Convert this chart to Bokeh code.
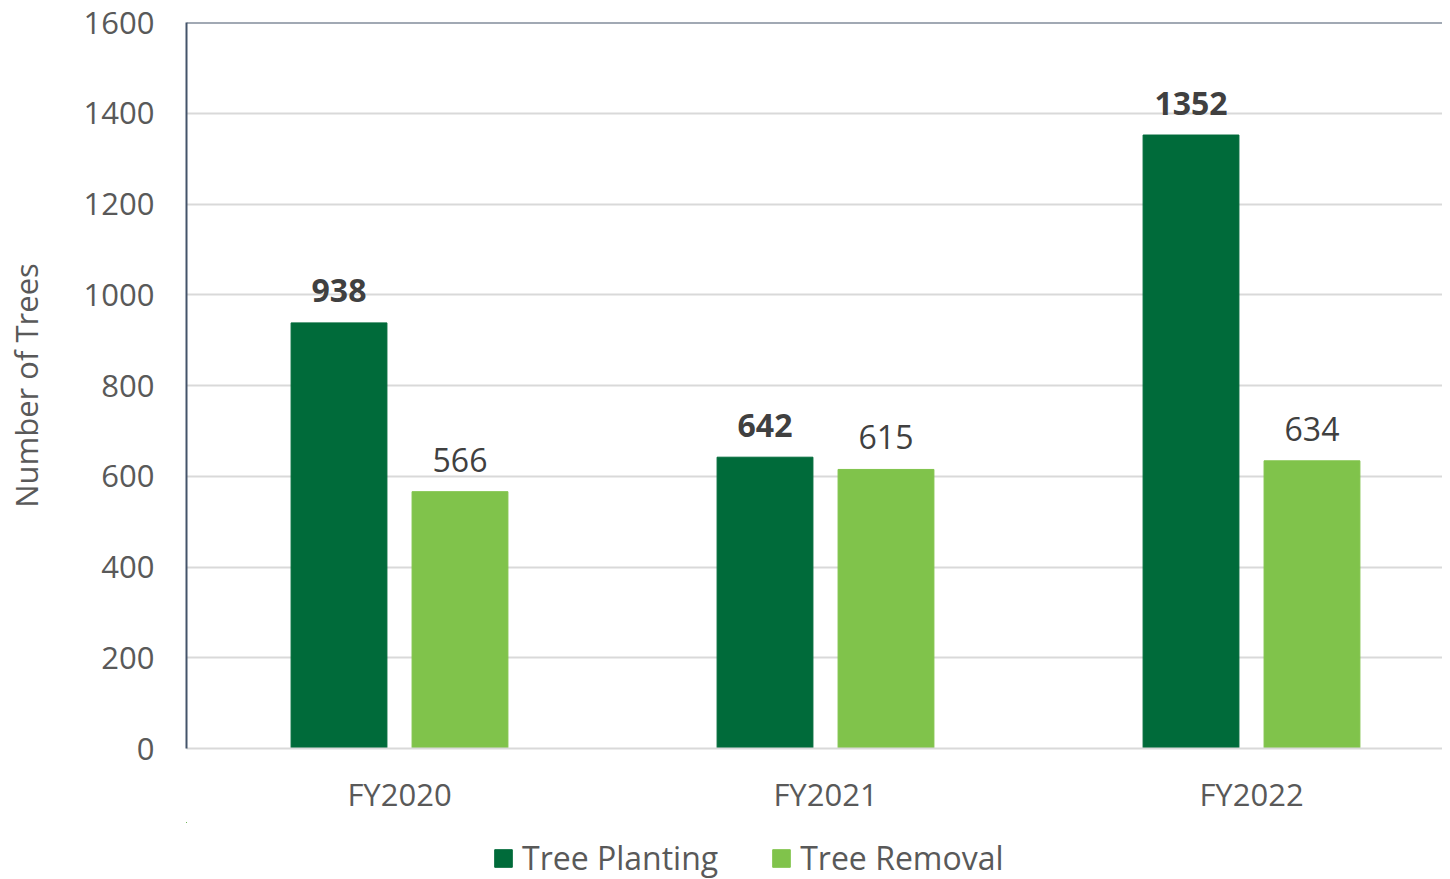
from bokeh.plotting import figure
from bokeh.layouts import column
from bokeh.models import Range1d, Span, Legend, LegendItem, ColumnDataSource, FixedTicker
from bokeh.core.properties import value
from bokeh.embed import file_html
from bokeh.resources import INLINE

categories = ["FY2020", "FY2021", "FY2022"]
planting = [938, 642, 1352]
removal = [566, 615, 634]
y_ticks = [0, 200, 400, 600, 800, 1000, 1200, 1400, 1600]
series_names = ["Tree Planting", "Tree Removal"]

DARK = "#006B3A"
LIGHT = "#80C34B"
FONT = "Open Sans"
W = 1442
LEFT = 186

centers = [i + 0.5 for i in range(len(categories))]
off = 0.142
bw = 0.225

src_p = ColumnDataSource(dict(x=[c - off for c in centers], top=planting,
                              lab=[str(v) for v in planting]))
src_r = ColumnDataSource(dict(x=[c + off for c in centers], top=removal,
                              lab=[str(v) for v in removal]))

p = figure(width=W, height=822, output_backend="svg", toolbar_location=None,
           x_range=Range1d(0, (W - LEFT) / 426), y_range=Range1d(0, 1600),
           min_border_left=LEFT, min_border_top=22, min_border_bottom=74,
           min_border_right=0)
p.outline_line_color = None
p.background_fill_color = "white"
p.border_fill_color = "white"

r1 = p.vbar(x="x", top="top", width=bw, source=src_p, color=DARK)
r2 = p.vbar(x="x", top="top", width=bw, source=src_r, color=LIGHT)

p.text(x="x", y="top", text="lab", source=src_p, text_font=value(FONT),
       text_font_size="32px", text_font_style="bold", text_color="#404040",
       text_align="center", text_baseline="middle", y_offset=-32)
p.text(x="x", y="top", text="lab", source=src_r, text_font=value(FONT),
       text_font_size="32px", text_color="#404040",
       text_align="center", text_baseline="middle", y_offset=-32)

# axes
p.xaxis.ticker = FixedTicker(ticks=centers)
p.xaxis.major_label_overrides = {c: n for c, n in zip(centers, categories)}
p.xaxis.axis_line_color = "#D9D9D9"
p.xaxis.axis_line_width = 2
p.xaxis.major_tick_line_color = None
p.xaxis.minor_tick_line_color = None
p.xaxis.major_label_text_font = FONT
p.xaxis.major_label_text_font_size = "31px"
p.xaxis.major_label_text_color = "#595959"
p.xaxis.major_label_standoff = 18

p.yaxis.ticker = FixedTicker(ticks=y_ticks)
p.yaxis.axis_line_color = "#44546A"
p.yaxis.axis_line_width = 2
p.yaxis.major_tick_line_color = None
p.yaxis.minor_tick_line_color = None
p.yaxis.major_label_text_font = FONT
p.yaxis.major_label_text_font_size = "31px"
p.yaxis.major_label_text_color = "#595959"
p.yaxis.major_label_standoff = 26
p.yaxis.axis_label = "Number of Trees"
p.yaxis.axis_label_text_font = FONT
p.yaxis.axis_label_text_font_size = "31px"
p.yaxis.axis_label_text_font_style = "normal"
p.yaxis.axis_label_text_color = "#595959"
p.yaxis.axis_label_standoff = 34

p.xgrid.grid_line_color = None
p.ygrid.grid_line_color = "#D9D9D9"
p.ygrid.grid_line_width = 2

p.add_layout(Span(location=1600, dimension="width", line_color="#44546A", line_width=2))

# legend strip (its renderers reuse the data but sit outside its visible range)
lg = figure(width=W, height=57, output_backend="svg", toolbar_location=None,
            x_range=Range1d(100, 101), y_range=Range1d(-2, -1),
            x_axis_location=None, y_axis_location=None,
            min_border_left=LEFT, min_border_right=0, min_border_top=0, min_border_bottom=0)
lg.grid.visible = False
lg.outline_line_color = None
lg.background_fill_color = "white"
lg.border_fill_color = "white"
lr1 = lg.vbar(x="x", top="top", width=bw, source=src_p, color=DARK)
lr2 = lg.vbar(x="x", top="top", width=bw, source=src_r, color=LIGHT)
legend = Legend(items=[LegendItem(label=series_names[0], renderers=[lr1]),
                       LegendItem(label=series_names[1], renderers=[lr2])],
                orientation="horizontal", location=(306, 0),
                label_text_font=FONT, label_text_font_size="32px",
                label_text_color="#595959", glyph_width=22, glyph_height=22,
                label_standoff=8, spacing=52, padding=0, margin=0,
                border_line_color=None, background_fill_alpha=0)
lg.add_layout(legend, "center")

layout = column(p, lg, spacing=0)
open("out.html", "w").write(file_html(layout, INLINE))
